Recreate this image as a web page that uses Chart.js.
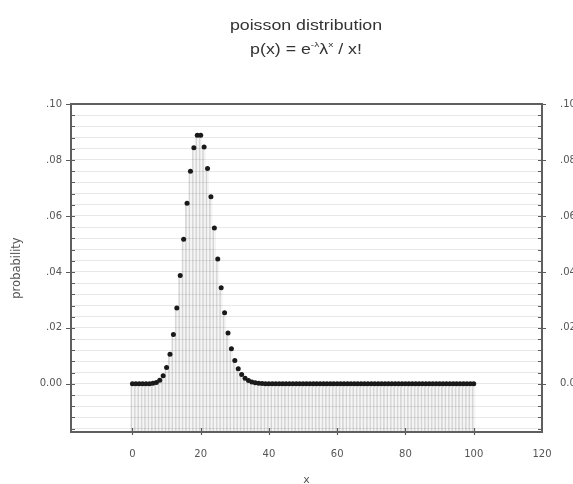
<!DOCTYPE html>
<html>
<head>
<meta charset="utf-8">
<script src="https://cdn.jsdelivr.net/npm/chart.js@4.4.1/dist/chart.umd.min.js"></script>
<style>
  html, body { margin: 0; padding: 0; background: #fff; }
  #wrap { width: 573px; height: 484px; }
</style>
</head>
<body>
<div id="wrap"><canvas id="chart" width="573" height="484"></canvas></div>
<script>
// poisson, lambda = 20, x = 0..100
const xValues = [
    0, 1, 2, 3, 4, 5, 6, 7, 8, 9, 10, 11, 12, 13, 14, 15, 16, 17, 18, 19,
    20, 21, 22, 23, 24, 25, 26, 27, 28, 29, 30, 31, 32, 33, 34, 35, 36, 37, 38, 39,
    40, 41, 42, 43, 44, 45, 46, 47, 48, 49, 50, 51, 52, 53, 54, 55, 56, 57, 58, 59,
    60, 61, 62, 63, 64, 65, 66, 67, 68, 69, 70, 71, 72, 73, 74, 75, 76, 77, 78, 79,
    80, 81, 82, 83, 84, 85, 86, 87, 88, 89, 90, 91, 92, 93, 94, 95, 96, 97, 98, 99,
    100
];
const probability = [
    0.00000, 0.00000, 0.00000, 0.00000, 0.00001, 0.00005, 0.00018, 0.00052, 0.00131, 0.00291,
    0.00582, 0.01058, 0.01763, 0.02712, 0.03874, 0.05165, 0.06456, 0.07595, 0.08439, 0.08884,
    0.08884, 0.08461, 0.07691, 0.06688, 0.05573, 0.04459, 0.03430, 0.02541, 0.01815, 0.01252,
    0.00834, 0.00538, 0.00336, 0.00204, 0.00120, 0.00069, 0.00038, 0.00021, 0.00011, 0.00006,
    0.00003, 0, 0, 0, 0, 0, 0, 0, 0, 0,
    0, 0, 0, 0, 0, 0, 0, 0, 0, 0,
    0, 0, 0, 0, 0, 0, 0, 0, 0, 0,
    0, 0, 0, 0, 0, 0, 0, 0, 0, 0,
    0, 0, 0, 0, 0, 0, 0, 0, 0, 0,
    0, 0, 0, 0, 0, 0, 0, 0, 0, 0,
    0
];
const xTicks = [0, 20, 40, 60, 80, 100, 120];
const yTicks = [0, 0.02, 0.04, 0.06, 0.08, 0.10];

const X_MIN = -18, X_MAX = 120;
const Y_MIN = -0.0172, Y_MAX = 0.10;
const MINOR = 0.004;

const isMajor = v => yTicks.some(t => Math.abs(t - v) < 1e-9);
const fmtY = v => {
    if (!isMajor(v)) return '';
    if (Math.abs(v) < 1e-9) return '0.00';
    return v.toFixed(2).replace(/^0/, '');
};
const buildMinor = scale => {
    const ticks = [];
    for (let v = Y_MAX; v >= Y_MIN - 1e-9; v -= MINOR) {
        ticks.push({ value: Math.round(v * 1000) / 1000 });
    }
    scale.ticks = ticks.reverse();
};

const tickFont = { family: 'DejaVu Sans', size: 10 };

const titlePlugin = {
    id: 'titles',
    afterDraw(chart) {
        const ctx = chart.ctx;
        const cx = 306;
        const stretch = 1.27;
        ctx.save();
        ctx.fillStyle = '#333';
        ctx.textBaseline = 'middle';
        ctx.translate(cx, 0);
        ctx.scale(stretch, 1);

        ctx.font = '14px "Liberation Sans", Arial, sans-serif';
        ctx.textAlign = 'center';
        ctx.fillText('poisson distribution', 0, 26);

        // p(x) = e^(-λ) λ^x / x!
        const parts = [
            { t: 'p(x) = e', sup: false },
            { t: '-λ', sup: true },
            { t: 'λ', sup: false },
            { t: 'x', sup: true },
            { t: ' / x!', sup: false }
        ];
        const bigFont = '14px "Liberation Sans", Arial, sans-serif';
        const supFont = '8px "Liberation Sans", Arial, sans-serif';
        let total = 0;
        parts.forEach(p => {
            ctx.font = p.sup ? supFont : bigFont;
            p.w = ctx.measureText(p.t).width;
            total += p.w;
        });
        let x = -total / 2;
        ctx.textAlign = 'left';
        parts.forEach(p => {
            ctx.font = p.sup ? supFont : bigFont;
            ctx.fillText(p.t, x, p.sup ? 45 : 50);
            x += p.w;
        });
        ctx.restore();
    }
};

const framePlugin = {
    id: 'frame',
    afterDatasetsDraw(chart) {
        const { ctx, chartArea: a } = chart;
        const y = chart.scales.y;
        const x = chart.scales.x;
        ctx.save();
        ctx.strokeStyle = '#5a5a5a';
        ctx.lineWidth = 1.2;
        // minor / major ticks, left and right
        y.ticks.forEach(t => {
            const py = Math.round(y.getPixelForValue(t.value)) + 0.5;
            const major = isMajor(t.value);
            ctx.beginPath();
            ctx.moveTo(a.left - (major ? 5 : 0), py);
            ctx.lineTo(a.left + 4, py);
            ctx.moveTo(a.right - 4, py);
            ctx.lineTo(a.right + (major ? 4 : 0), py);
            ctx.stroke();
        });
        xTicks.forEach(v => {
            if (v >= X_MAX) return;
            const px = Math.round(x.getPixelForValue(v)) + 0.5;
            ctx.beginPath();
            ctx.moveTo(px, a.bottom - 4);
            ctx.lineTo(px, a.bottom + 3);
            ctx.stroke();
        });
        ctx.strokeStyle = '#5f5f5f';
        ctx.lineWidth = 2;
        ctx.strokeRect(a.left, a.top, a.right - a.left, a.bottom - a.top);
        ctx.restore();
    }
};

new Chart(document.getElementById('chart'), {
    type: 'scatter',
    data: {
        datasets: [{
            type: 'scatter',
            order: 0,
            data: xValues.map((v, i) => ({ x: v, y: probability[i] })),
            pointRadius: 2.5,
            pointBackgroundColor: '#1a1a1a',
            pointBorderWidth: 0,
            showLine: false
        }, {
            type: 'bar',
            order: 1,
            data: xValues.map((v, i) => ({ x: v, y: probability[i] })),
            base: Y_MIN,
            backgroundColor: 'rgba(0, 0, 0, 0.04)',
            borderColor: 'rgba(0, 0, 0, 0.15)',
            borderWidth: { left: 1, right: 0, top: 0, bottom: 0 },
            borderSkipped: false,
            barPercentage: 1,
            categoryPercentage: 1
        }]
    },
    options: {
        responsive: false,
        animation: false,
        devicePixelRatio: 1,
        layout: { padding: { top: 104, left: 0, right: 0, bottom: 0 } },
        scales: {
            x: {
                type: 'linear',
                position: 'bottom',
                offset: false,
                min: X_MIN,
                max: X_MAX,
                afterBuildTicks: s => { s.ticks = xTicks.map(v => ({ value: v })); },
                afterFit: s => { s.height = 52; },
                grid: { display: false, offset: false },
                border: { display: false },
                ticks: { font: tickFont, color: '#555', padding: 8, maxRotation: 0 },
                title: {
                    display: true,
                    text: 'x',
                    font: { family: 'DejaVu Sans', size: 11 },
                    color: '#555',
                    padding: { top: 0, bottom: -3 }
                }
            },
            y: {
                position: 'left',
                min: Y_MIN,
                max: Y_MAX,
                afterBuildTicks: buildMinor,
                afterFit: s => { s.width = 71; },
                grid: { color: '#e8e8e8', drawTicks: false },
                border: { display: false },
                ticks: { font: tickFont, color: '#555', padding: 9, autoSkip: false, callback: fmtY },
                title: {
                    display: true,
                    text: 'probability',
                    font: { family: 'DejaVu Sans', size: 11.5 },
                    color: '#555',
                    padding: { top: 10, bottom: 0 }
                }
            },
            y2: {
                position: 'right',
                min: Y_MIN,
                max: Y_MAX,
                afterBuildTicks: buildMinor,
                afterFit: s => { s.width = 31; },
                grid: { display: false },
                border: { display: false },
                ticks: { font: tickFont, color: '#555', padding: 10, autoSkip: false, callback: fmtY }
            }
        },
        plugins: {
            legend: { display: false },
            tooltip: { enabled: false },
            title: { display: false }
        }
    },
    plugins: [titlePlugin, framePlugin]
});
</script>
</body>
</html>
